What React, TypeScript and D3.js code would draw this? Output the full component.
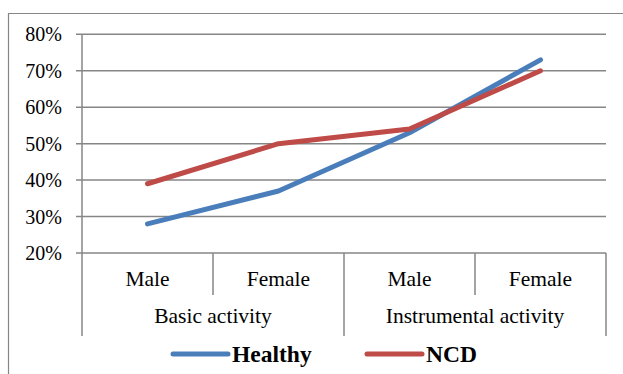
import React from "react";
import * as d3 from "d3";

const subCategories = ["Male", "Female", "Male", "Female"];
const groups = ["Basic activity", "Instrumental activity"];
const healthy = [0.28, 0.37, 0.53, 0.73];
const ncd = [0.39, 0.50, 0.54, 0.70];
const yTicks = [0.2, 0.3, 0.4, 0.5, 0.6, 0.7, 0.8];
const seriesNames = ["Healthy", "NCD"];
const colors = ["#4a7ebb", "#be4b48"];

export default function App() {
  const W = 623, H = 374;
  const left = 82, right = 606, top = 34.3, bottom = 253;
  const x = d3.scaleBand<number>().domain(d3.range(subCategories.length)).range([left, right]).padding(0);
  const y = d3.scaleLinear().domain([0.2, 0.8]).range([bottom, top]);
  const line = d3.line<number>().x((_, i) => (x(i) as number) + x.bandwidth() / 2).y((d) => y(d));
  const grid = "#868686";
  const fam = "'Liberation Serif', 'Times New Roman', serif";
  const ts = (size: number): React.CSSProperties => ({ fontFamily: fam, fontSize: size });
  const groupSize = subCategories.length / groups.length;
  return (
    <div style={{ position: "absolute", left: 0, top: 0 }}>
      <svg width={W} height={H} style={{ display: "block", background: "#fff" }}>
        <path d={`M8.5,${H} V13.5 H${W}`} fill="none" stroke={grid} strokeWidth={1.2} />
        {yTicks.map((t) => (
          <g key={t}>
            <line x1={left - 6} x2={right} y1={y(t)} y2={y(t)} stroke={grid} strokeWidth={1.5} />
            <text x={62} y={y(t)} dy="0.35em" textAnchor="end" style={ts(20)} fill="#000">
              {d3.format(".0%")(t)}
            </text>
          </g>
        ))}
        <line x1={left} x2={left} y1={top} y2={bottom} stroke={grid} strokeWidth={1.5} />
        {d3.range(subCategories.length + 1).map((i) => {
          const xx = i < subCategories.length ? (x(i) as number) : right;
          const major = i % groupSize === 0;
          return (
            <line key={i} x1={xx} x2={xx} y1={bottom} y2={major ? 336 : 295} stroke={grid} strokeWidth={1.5} />
          );
        })}
        {subCategories.map((c, i) => (
          <text key={i} x={(x(i) as number) + x.bandwidth() / 2} y={286} textAnchor="middle" style={ts(21.5)} fill="#000">
            {c}
          </text>
        ))}
        {groups.map((g, gi) => (
          <text key={g} x={(x(gi * groupSize) as number) + x.bandwidth() * groupSize / 2} y={323} textAnchor="middle" style={ts(21.5)} fill="#000">
            {g}
          </text>
        ))}
        {[healthy, ncd].map((s, si) => (
          <path key={si} d={line(s) || ""} fill="none" stroke={colors[si]} strokeWidth={5} strokeLinecap="round" strokeLinejoin="round" />
        ))}
        {seriesNames.map((n, si) => {
          const lx = [173, 367][si];
          return (
            <g key={n}>
              <line x1={lx} x2={lx + 55} y1={354} y2={354} stroke={colors[si]} strokeWidth={5} strokeLinecap="round" />
              <text x={lx + 59} y={362} style={{ ...ts(23.5), fontWeight: "bold" }} fill="#000">{n}</text>
            </g>
          );
        })}
      </svg>
    </div>
  );
}
